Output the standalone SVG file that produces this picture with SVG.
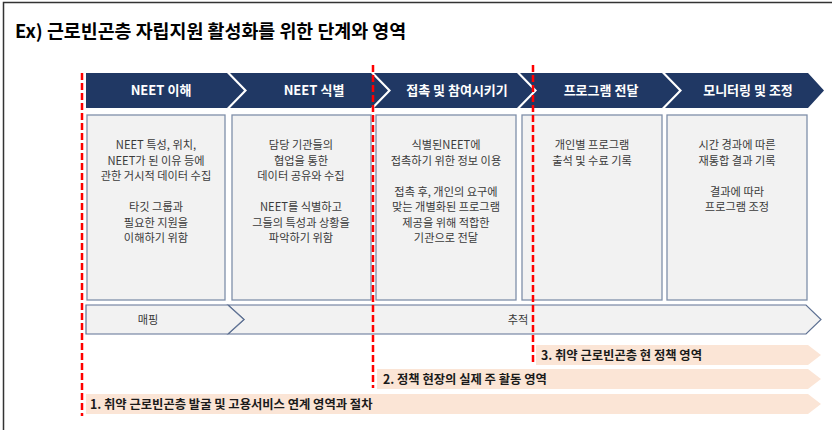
<svg xmlns="http://www.w3.org/2000/svg" width="832" height="430" viewBox="0 0 832 430">
<style>
.title{font-family:"Noto Sans CJK KR","Liberation Sans",sans-serif;font-weight:bold;font-size:18.4px;fill:#000}
.hd{fill:#203864}
.ht{font-family:"Noto Sans CJK KR","Liberation Sans",sans-serif;font-weight:bold;font-size:13px;fill:#fff;text-anchor:middle}
.box{fill:#f2f2f2;stroke:#7f8fa9;stroke-width:1.3}
.bt{font-family:"Noto Sans CJK KR","Liberation Sans",sans-serif;font-size:11.2px;fill:#3a3a3a;text-anchor:middle}
.bar{fill:#f2f2f2;stroke:#5e7193;stroke-width:1.2}
.pe{fill:#fbe5d6}
.pt{font-family:"Noto Sans CJK KR","Liberation Sans",sans-serif;font-weight:bold;font-size:12.3px;fill:#1a1a1a}
.red{stroke:#ff0000;stroke-width:2.5;stroke-dasharray:7 3;fill:none}
</style>
<rect x="0" y="0" width="832" height="430" fill="#fff"/>
<path d="M3.5,450 V2.5 H840" fill="none" stroke="#333" stroke-width="1.5"/>
<text class="title" x="15" y="38">Ex) 근로빈곤층 자립지원 활성화를 위한 단계와 영역</text>

<g id="stage1"><polygon class="hd" points="86,73 227,73 244,90.5 227,108 86,108"/><text class="ht" x="161" y="95">NEET 이해</text></g>
<g id="stage2"><polygon class="hd" points="230,73 371,73 388,90.5 371,108 230,108 247,90.5"/><text class="ht" x="314" y="95">NEET 식별</text></g>
<g id="stage3"><polygon class="hd" points="374,73 517,73 534,90.5 517,108 374,108 391,90.5"/><text class="ht" x="457" y="95">접촉 및 참여시키기</text></g>
<g id="stage4"><polygon class="hd" points="520,73 662,73 679,90.5 662,108 520,108 537,90.5"/><text class="ht" x="601" y="95">프로그램 전달</text></g>
<g id="stage5"><polygon class="hd" points="665,73 808,73 824,90.5 808,108 665,108 682,90.5"/><text class="ht" x="748" y="95">모니터링 및 조정</text></g>

<g id="box1"><rect class="box" x="87" y="115" width="138" height="185"/>
<text class="bt"><tspan x="156" y="149">NEET 특성, 위치,</tspan><tspan x="156" y="164.5">NEET가 된 이유 등에</tspan><tspan x="156" y="180">관한 거시적 데이터 수집</tspan><tspan x="156" y="211">타깃 그룹과</tspan><tspan x="156" y="226.5">필요한 지원을</tspan><tspan x="156" y="242">이해하기 위함</tspan></text></g>
<g id="box2"><rect class="box" x="232" y="115" width="139" height="185"/>
<text class="bt"><tspan x="301" y="149">담당 기관들의</tspan><tspan x="301" y="164.5">협업을 통한</tspan><tspan x="301" y="180">데이터 공유와 수집</tspan><tspan x="301" y="211">NEET를 식별하고</tspan><tspan x="301" y="226.5">그들의 특성과 상황을</tspan><tspan x="301" y="242">파악하기 위함</tspan></text></g>
<g id="box3"><rect class="box" x="376" y="115" width="140" height="185"/>
<text class="bt"><tspan x="446" y="149">식별된NEET에</tspan><tspan x="446" y="164.5">접촉하기 위한 정보 이용</tspan><tspan x="446" y="195.5">접촉 후, 개인의 요구에</tspan><tspan x="446" y="211">맞는 개별화된 프로그램</tspan><tspan x="446" y="226.5">제공을 위해 적합한</tspan><tspan x="446" y="242">기관으로 전달</tspan></text></g>
<g id="box4"><rect class="box" x="522" y="115" width="140" height="185"/>
<text class="bt"><tspan x="592" y="149">개인별 프로그램</tspan><tspan x="592" y="164.5">출석 및 수료 기록</tspan></text></g>
<g id="box5"><rect class="box" x="667" y="115" width="140" height="185"/>
<text class="bt"><tspan x="737" y="149">시간 경과에 따른</tspan><tspan x="737" y="164.5">재통합 결과 기록</tspan><tspan x="737" y="195.5">결과에 따라</tspan><tspan x="737" y="211">프로그램 조정</tspan></text></g>

<g id="tracking"><polygon class="bar" points="228,305 806,305 821,319.5 806,334 228,334 244,319.5"/><text class="bt" x="518" y="323.5">추적</text></g>
<g id="mapping"><polygon class="bar" points="86,305 228,305 244,319.5 228,334 86,334"/><text class="bt" x="148" y="323.5">매핑</text></g>

<g id="area3"><polygon class="pe" points="536,345 808,345 821,355 808,365 536,365"/><text class="pt" x="541" y="359.5">3. 취약 근로빈곤층 현 정책 영역</text></g>
<g id="area2"><polygon class="pe" points="377,369 808,369 821,379 808,389 377,389"/><text class="pt" x="383" y="383.5">2. 정책 현장의 실제 주 활동 영역</text></g>
<g id="area1"><polygon class="pe" points="86,394 808,394 821,404 808,414 86,414"/><text class="pt" x="90" y="408.5">1. 취약 근로빈곤층 발굴 및 고용서비스 연계 영역과 절차</text></g>

<g id="connectors">
<line class="red" x1="82" y1="73" x2="82" y2="416"/>
<line class="red" x1="373" y1="65" x2="373" y2="388"/>
<line class="red" x1="533" y1="65" x2="533" y2="364"/>
</g>
</svg>
